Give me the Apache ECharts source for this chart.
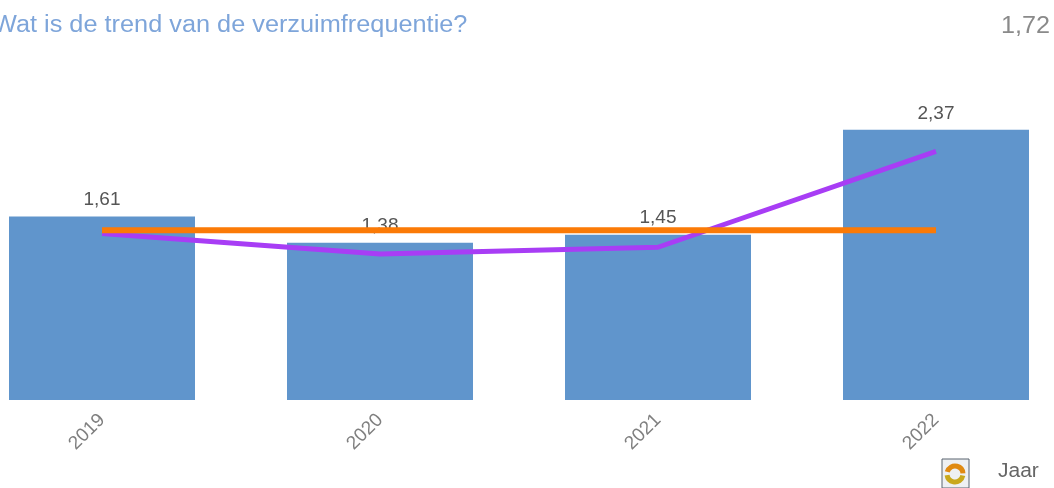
<!DOCTYPE html>
<html>
<head>
<meta charset="utf-8">
<title>Verzuimfrequentie</title>
<style>
  html, body { margin: 0; padding: 0; background: #fff; }
  #chart { width: 1054px; height: 488px; }
</style>
</head>
<body>
<div id="chart"></div>
<script src="https://cdn.jsdelivr.net/npm/echarts@6/dist/echarts.min.js"></script>
<script>
var years = ["2019", "2020", "2021", "2022"];
var frequentie = [1.61, 1.38, 1.45, 2.37];
var trend = [1.46, 1.28, 1.34, 2.18];
var gemiddelde = [1.49, 1.49, 1.49, 1.49];
var titleText = "Wat is de trend van de verzuimfrequentie?";
var kpiText = "1,72";
var periodText = "Jaar";

var font = "'Liberation Sans', Arial, sans-serif";
var chart = echarts.init(document.getElementById("chart"));

chart.setOption({
  animation: false,
  backgroundColor: "#ffffff",
  grid: { left: -37, top: 58, width: 1112, height: 342, containLabel: false, outerBoundsMode: "none" },
  xAxis: {
    type: "category",
    data: years,
    axisLine: { show: false },
    axisTick: { show: false },
    axisLabel: { rotate: 45, margin: 17, color: "#7f7f7f", fontSize: 19, fontFamily: font, interval: 0 }
  },
  yAxis: { type: "value", min: 0, max: 3, show: false, splitLine: { show: false } },
  series: [
    {
      type: "bar",
      data: frequentie,
      barWidth: 186,
      itemStyle: { color: "#6095cc" },
      label: {
        show: true,
        position: "top",
        distance: 7,
        color: "#555555",
        fontSize: 19,
        fontFamily: font,
        formatter: function (p) { return p.value.toFixed(2).replace(".", ","); }
      }
    },
    {
      type: "line",
      data: trend,
      symbol: "none",
      lineStyle: { color: "#a83df5", width: 5 }
    },
    {
      type: "line",
      data: gemiddelde,
      symbol: "none",
      lineStyle: { color: "#fb7a06", width: 6 }
    }
  ],
  graphic: [
    { type: "text", x: -7, y: 14, scaleX: 1.1, style: { text: titleText, fill: "#7ea5da", font: "23px " + font } },
    { type: "text", x: 1001, y: 14, scaleX: 1.05, style: { text: kpiText, fill: "#8a8a8a", font: "24px " + font } },
    { type: "text", x: 998, y: 461, scaleX: 1.05, style: { text: periodText, fill: "#666666", font: "20px " + font } },
    // refresh icon
    { type: "rect", shape: { x: 942, y: 459, width: 27, height: 29 }, style: { fill: "#eef0f3", stroke: "#59636e", lineWidth: 1 } },
    { type: "arc", shape: { cx: 955, cy: 474, r: 8, startAngle: 3.4, endAngle: 6.2 }, style: { stroke: "#e08a12", fill: "none", lineWidth: 5 } },
    { type: "arc", shape: { cx: 955, cy: 474, r: 8, startAngle: 0.2, endAngle: 3.0 }, style: { stroke: "#c9a81c", fill: "none", lineWidth: 5 } }
  ]
});
</script>
</body>
</html>
